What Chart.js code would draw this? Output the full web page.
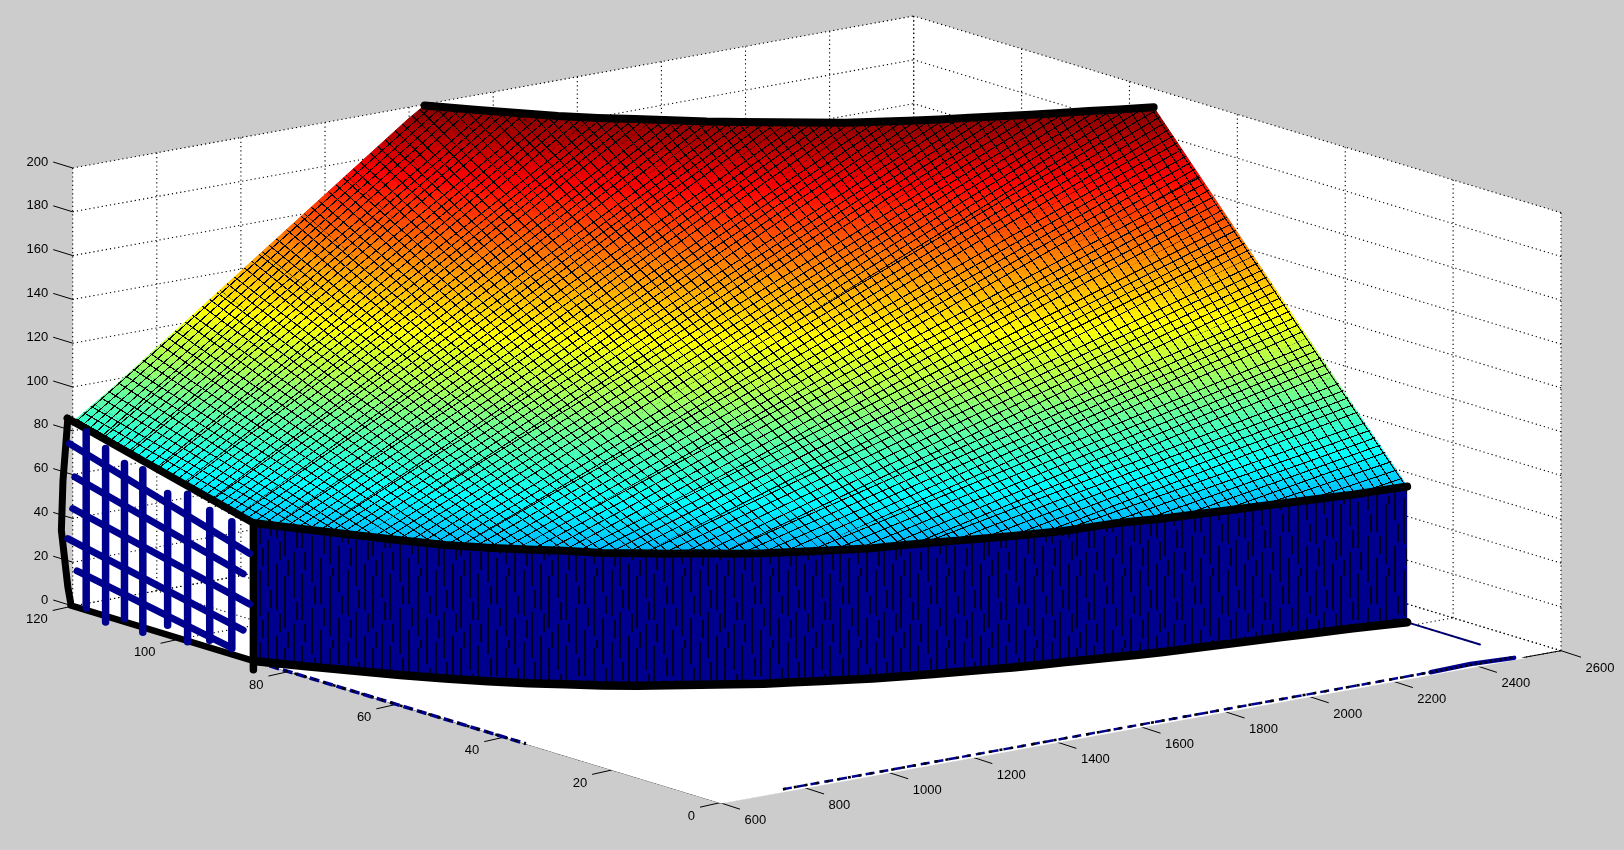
<!DOCTYPE html>
<html>
<head>
<meta charset="utf-8">
<style>
  html, body { margin: 0; padding: 0; background: #cccccc; overflow: hidden; }
  canvas { display: block; }
</style>
<script src="https://cdn.jsdelivr.net/npm/chart.js@4/dist/chart.umd.min.js"></script>
</head>
<body>
<canvas id="surfaceChart" width="1624" height="850"></canvas>
<script>
// axis ticks
const xTicks = [600, 800, 1000, 1200, 1400, 1600, 1800, 2000, 2200, 2400, 2600];
const yTicks = [0, 20, 40, 60, 80, 100, 120];
const zTicks = [0, 20, 40, 60, 80, 100, 120, 140, 160, 180, 200];

// surface, read column by column: each column is a straight line from the front edge to the back edge
const surfX  = [600, 650, 700, 750, 800, 850, 900, 950, 1000, 1050, 1100, 1150, 1200, 1250, 1300, 1350, 1400, 1437, 1500, 1550, 1600, 1650, 1700, 1750, 1800, 1850, 1900, 1950, 2000, 2050, 2100, 2150, 2200, 2250, 2300, 2350, 2400, 2450, 2510];
const frontY = [86.5, 81, 76, 71, 66.5, 62.5, 59, 56, 53, 50.5, 48.5, 46.5, 44.5, 42.5, 41, 39.5, 38, 37, 35.5, 34.5, 33.5, 32.5, 31.5, 30.7, 30, 29.2, 28.5, 27.7, 27, 26.5, 26, 25.5, 25, 24.5, 24, 23.5, 23, 22.3, 21.5];
const frontZ = [63, 62.5, 62, 61.5, 61, 61, 61, 61, 60.5, 60.5, 60, 60, 59.5, 59.5, 59.5, 59.5, 59.5, 59.5, 60, 60, 60, 60, 60, 60, 60, 60.5, 61, 61, 61, 61, 61, 61, 61, 61, 61, 61, 61, 61.5, 62];
const backY  = [120, 120, 120, 120, 120, 120, 120, 120, 120, 120, 120, 120, 120, 120, 120, 120, 120, 120, 115, 111.5, 108, 104.5, 101.5, 98.7, 96, 93.5, 91, 88.5, 86, 84, 82, 80.2, 78.5, 76.7, 75, 73.5, 72, 70.3, 68.5];
const backZ  = [84, 90.5, 97, 104, 111, 118, 125, 132, 139, 146, 153, 160, 167, 174, 181, 188, 195, 199.5, 199, 198.5, 198, 198, 198, 197.8, 197.5, 197.5, 197.5, 197.5, 197.5, 197.8, 198, 198.2, 198.5, 198.8, 199, 199.2, 199.5, 199.7, 200];

// same surface read row by row (constant y), used for the second family of mesh lines
const rowY  = [120, 115, 110, 105, 100, 95, 90, 85, 80, 75, 68.5, 65, 60, 55, 50, 45, 40, 35, 30, 25, 21.5];
const rowX0 = [600, 600, 600, 600, 600, 600, 600, 624, 662, 707, 774, 815, 883, 964, 1060, 1178, 1325, 1514, 1767, 2120, 2465];
const rowZ0 = [84, 80, 77, 73, 70, 66, 63, 61.5, 61, 61.5, 61, 61, 61, 61, 61, 60, 61, 60, 61, 61, 61];
const rowX1 = [1437, 1500, 1567, 1642, 1724, 1815, 1915, 2028, 2155, 2299, 2510, 2510, 2510, 2510, 2510, 2510, 2510, 2510, 2510, 2510, 2510];
const rowZ1 = [200, 199, 199, 198, 198, 197.5, 197.5, 197.5, 198, 199, 200, 190, 175, 160, 146, 131, 116, 102, 87, 73, 62];

// white patch on the floor and the blue streaks along its edges
const patchX = [598, 2510, 2510, 598];
const patchY = [-0.4, -0.4, 21.5, 86.5];

// hand drawn lines on the side face (plane x = 600)
const sideEdgeY = [120.9, 121.8, 122.1, 120.9, 120.4];
const sideEdgeZ = [85, 56, 33, 8, 1.5];
const vertY = [117.5, 113.9, 110.4, 107, 102.4, 98.7, 94.6, 90.5];
const vertZ0 = [81.3, 76.5, 72.3, 71.9, 64.5, 67, 62.6, 60.6];
const vertZ1 = [1, -2.7, 1.5, -2.2, 4.4, -0.4, 3.4, 2.7];
const slantY0 = [120.6, 119.6, 120, 120.9, 119.2];
const slantZ0 = [73.7, 59.2, 44.5, 30.1, 16.6];
const slantY1 = [87.2, 88.4, 87.2, 88.4, 90.9];
const slantZ1 = [48.5, 38.4, 25.4, 12.6, 3.1];

const NAVY = '#00008f';
const canvas = document.getElementById('surfaceChart');
const ctx = canvas.getContext('2d');

// fixed 3d view, the box corners were measured on the picture
function project(x, y, z) {
    const a = (x - 600) / 2000, b = y / 120, c = z / 200;
    return { x: 720 + 841 * a - 647.3 * b, y: 802.7 - 152 * a - 196.7 * b - 438 * c };
}

function jet(t) {
    const ramp = v => Math.round(255 * Math.max(0, Math.min(1, v)));
    const r = ramp(Math.min(4 * t - 1.5, 4.5 - 4 * t));
    const g = ramp(Math.min(4 * t - 0.5, 3.5 - 4 * t));
    const b = ramp(Math.min(4 * t + 0.5, 2.5 - 4 * t));
    return 'rgb(' + r + ',' + g + ',' + b + ')';
}

const datasets = [];
function add(points, opts) {
    datasets.push(Object.assign({
        data: points, showLine: true, pointRadius: 0, tension: 0, fill: false,
        borderWidth: 0, borderColor: '#000', order: -datasets.length
    }, opts));
}
function polygon(points, color) {
    add(points.concat([points[0]]), { fill: 'shape', backgroundColor: color });
}
function dotted(p, q) {
    add([p, q], { borderWidth: 1.1, borderDash: [1.2, 3] });
}
function thick(points, width, color) {
    add(points, { borderWidth: width, borderColor: color || '#000', borderCapStyle: 'round', borderJoinStyle: 'round' });
}

// walls and floor
polygon([project(600, 120, 0), project(2600, 120, 0), project(2600, 120, 200), project(600, 120, 200)], '#fff');
polygon([project(2600, 0, 0), project(2600, 120, 0), project(2600, 120, 200), project(2600, 0, 200)], '#fff');
polygon([project(600, 0, 0), project(2600, 0, 0), project(2600, 120, 0), project(600, 120, 0)], '#fff');

// grid
xTicks.forEach(v => {
    dotted(project(v, 120, 0), project(v, 120, 200));
    dotted(project(v, 0, 0), project(v, 120, 0));
});
yTicks.forEach(v => {
    dotted(project(2600, v, 0), project(2600, v, 200));
    dotted(project(600, v, 0), project(2600, v, 0));
});
zTicks.forEach(v => {
    dotted(project(600, 120, v), project(2600, 120, v));
    dotted(project(2600, 0, v), project(2600, 120, v));
});

// axis lines and tick marks
add([project(600, 120, 0), project(600, 0, 0), project(2600, 0, 0)], { borderWidth: 1 });
const tickLine = (p, dx, dy) => add([p, { x: p.x + dx, y: p.y + dy }], { borderWidth: 1 });
xTicks.forEach(v => tickLine(project(v, 0, 0), 20, 6.5));
yTicks.forEach(v => tickLine(project(600, v, 0), -20, 4.5));
zTicks.forEach(v => tickLine(project(600, 120, v), -19.5, -6));

// floor patch and streaks
polygon(patchX.map((x, i) => project(x, patchY[i], 0)), '#fff');
add([project(760, 0.8, 0), project(2300, 0.8, 0)], { borderWidth: 2.5, borderColor: NAVY, borderDash: [9, 5] });
add([project(760, 0.8, 0), project(2300, 0.8, 0)], { borderWidth: 2.5, borderDash: [3, 8] });
thick([project(2300, 0.8, 0), project(2400, 1.2, 0), project(2495, 0.5, 0)], 4.5, NAVY);
add([project(2300, 0.8, 0), project(2495, 0.8, 0)], { borderWidth: 2.5, borderDash: [2, 3] });
add([project(600, 86, 0), project(600, 36, 0)], { borderWidth: 3.5, borderColor: NAVY, borderDash: [10, 4] });
add([project(600, 86, 0), project(600, 36, 0)], { borderWidth: 2.5, borderDash: [3, 7] });
thick([project(2510, 21, 0), project(2510, 8, 0)], 2, NAVY);
add([project(2510, 21, 0), project(2510, 8, 0)], { borderWidth: 1, borderDash: [3, 4] });

// surface colour: one strip per column pair, gradient along the height on the strip
for (let i = 0; i < surfX.length - 1; i++) {
    const f0 = project(surfX[i], frontY[i], frontZ[i]);
    const f1 = project(surfX[i + 1], frontY[i + 1], frontZ[i + 1]);
    const b0 = project(surfX[i], backY[i], backZ[i]);
    const b1 = project(surfX[i + 1], backY[i + 1], backZ[i + 1]);
    const ux = (b0.x + b1.x - f0.x - f1.x) / 2, uy = (b0.y + b1.y - f0.y - f1.y) / 2;
    const uz = (backZ[i] + backZ[i + 1] - frontZ[i] - frontZ[i + 1]) / 2;
    const vx = f1.x - f0.x, vy = f1.y - f0.y, vz = frontZ[i + 1] - frontZ[i];
    const det = ux * vy - uy * vx;
    const gx = (uz * vy - vz * uy) / det, gy = (ux * vz - vx * uz) / det;
    const len = gx * gx + gy * gy;
    const at = z => ({ x: f0.x + gx * (z - frontZ[i]) / len, y: f0.y + gy * (z - frontZ[i]) / len });
    const p0 = at(0), p1 = at(200);
    const grad = ctx.createLinearGradient(p0.x, p0.y, p1.x, p1.y);
    for (let s = 0; s <= 16; s++) grad.addColorStop(s / 16, jet(s / 16));
    add([f0, f1, b1, b0, f0], { fill: 'shape', backgroundColor: grad, borderColor: grad, borderWidth: 1 });
}

// mesh texture: parallel thin lines repeated across each strip, first line shift keeps the steps even between strips
function meshPattern(mid0, mid1, n, dir, shift) {
    const period = { x: (mid1.x - mid0.x) / n, y: (mid1.y - mid0.y) / n };
    const tile = document.createElement('canvas');
    tile.width = tile.height = 64;
    const dlen = Math.hypot(dir.x, dir.y);
    const spacing = Math.abs(period.x * dir.y - period.y * dir.x) / dlen;
    tile.getContext('2d').fillRect(0, 0, 64 * 1.1 / spacing, 64);
    const pattern = ctx.createPattern(tile, 'repeat');
    pattern.setTransform(new DOMMatrix([period.x / 64, period.y / 64, dir.x / 64, dir.y / 64,
        mid0.x + period.x * shift, mid0.y + period.y * shift]));
    return pattern;
}
const middle = (p, q) => ({ x: (p.x + q.x) / 2, y: (p.y + q.y) / 2 });
for (let i = 0; i < surfX.length - 1; i++) {
    const f0 = project(surfX[i], frontY[i], frontZ[i]);
    const f1 = project(surfX[i + 1], frontY[i + 1], frontZ[i + 1]);
    const b0 = project(surfX[i], backY[i], backZ[i]);
    const b1 = project(surfX[i + 1], backY[i + 1], backZ[i + 1]);
    const n = (surfX[i + 1] - surfX[i]) / 20;
    const shift = 1 - (((surfX[i] - 5) / 20) % 1);
    const dir = { x: (b0.x + b1.x - f0.x - f1.x) / 2, y: (b0.y + b1.y - f0.y - f1.y) / 2 };
    add([f0, f1, b1, b0, f0], { fill: 'shape', backgroundColor: meshPattern(middle(f0, b0), middle(f1, b1), n, dir, shift) });
}
for (let j = 0; j < rowY.length - 1; j++) {
    const s0 = project(rowX0[j], rowY[j], rowZ0[j]);
    const s1 = project(rowX0[j + 1], rowY[j + 1], rowZ0[j + 1]);
    const e0 = project(rowX1[j], rowY[j], rowZ1[j]);
    const e1 = project(rowX1[j + 1], rowY[j + 1], rowZ1[j + 1]);
    const n = rowY[j] - rowY[j + 1];
    const shift = (rowY[j] - 0.5) % 1;
    const dir = { x: (e0.x + e1.x - s0.x - s1.x) / 2, y: (e0.y + e1.y - s0.y - s1.y) / 2 };
    add([s0, e0, e1, s1, s0], { fill: 'shape', backgroundColor: meshPattern(middle(s0, e0), middle(s1, e1), n, dir, shift) });
}

// front wall, dark blue with uneven black mesh lines
const wallTile = document.createElement('canvas');
wallTile.width = 88; wallTile.height = 72;
const wt = wallTile.getContext('2d');
wt.fillStyle = NAVY; wt.fillRect(0, 0, 88, 72);
wt.strokeStyle = '#000'; wt.lineWidth = 1.5;
[4, 13, 21, 30, 38, 48, 57, 66, 75, 84].forEach((x, i) => {
    const jog = [10, 34, 52, 22, 44, 6, 28, 60, 16, 40][i];
    wt.beginPath();
    wt.moveTo(x, 0); wt.lineTo(x, jog); wt.moveTo(x + 3, jog + 4); wt.lineTo(x + 3, jog + 22); wt.moveTo(x, jog + 26); wt.lineTo(x, 72);
    wt.stroke();
});
const frontTop = surfX.map((x, i) => project(x, frontY[i], frontZ[i]));
const frontBottom = surfX.map((x, i) => project(x, frontY[i], 0));
polygon(frontTop.concat(frontBottom.slice().reverse()), ctx.createPattern(wallTile, 'repeat'));

// thick black outlines
thick(frontTop, 8);
thick(frontBottom, 8.5);
thick(surfX.map((x, i) => project(x, backY[i], backZ[i])).slice(17), 8);
thick([project(600, 121, 85), project(600, frontY[0], frontZ[0]), project(600, frontY[0], -4)], 7.5);
thick([project(600, 120.4, 0), project(600, frontY[0], 0)], 6.5);
thick(sideEdgeY.map((y, i) => project(600, y, sideEdgeZ[i])), 7);

// blue lines on the side face
vertY.forEach((y, i) => thick([project(600, y, vertZ0[i]), project(600, y, vertZ1[i])], 7.5, NAVY));
slantY0.forEach((y, i) => thick([project(600, y, slantZ0[i]), project(600, slantY1[i], slantZ1[i])], 7, NAVY));

// tick labels
const tickLabels = {
    id: 'tickLabels',
    afterDraw(chart) {
        const c = chart.ctx, sx = chart.scales.x, sy = chart.scales.y;
        const put = (text, p, dx, dy, align) => {
            c.textAlign = align;
            c.fillText(text, sx.getPixelForValue(p.x) + dx, sy.getPixelForValue(p.y) + dy);
        };
        c.save();
        c.fillStyle = '#000';
        c.font = '13px "Liberation Sans"';
        c.textBaseline = 'middle';
        xTicks.forEach(v => put(String(v), project(v, 0, 0), 24.5, 18, 'left'));
        yTicks.forEach(v => put(String(v), project(600, v, 0), -25, 13.5, 'right'));
        zTicks.forEach(v => put(String(v), project(600, 120, v), -24.5, -6, 'right'));
        c.restore();
    }
};

new Chart(canvas, {
    type: 'scatter',
    data: { datasets: datasets },
    plugins: [tickLabels],
    options: {
        responsive: false,
        animation: false,
        devicePixelRatio: 1,
        events: [],
        layout: { padding: 0 },
        plugins: { legend: { display: false }, tooltip: { enabled: false } },
        scales: {
            x: { type: 'linear', min: 0, max: 1624, display: false },
            y: { type: 'linear', min: 0, max: 850, reverse: true, display: false }
        }
    }
});
</script>
</body>
</html>
